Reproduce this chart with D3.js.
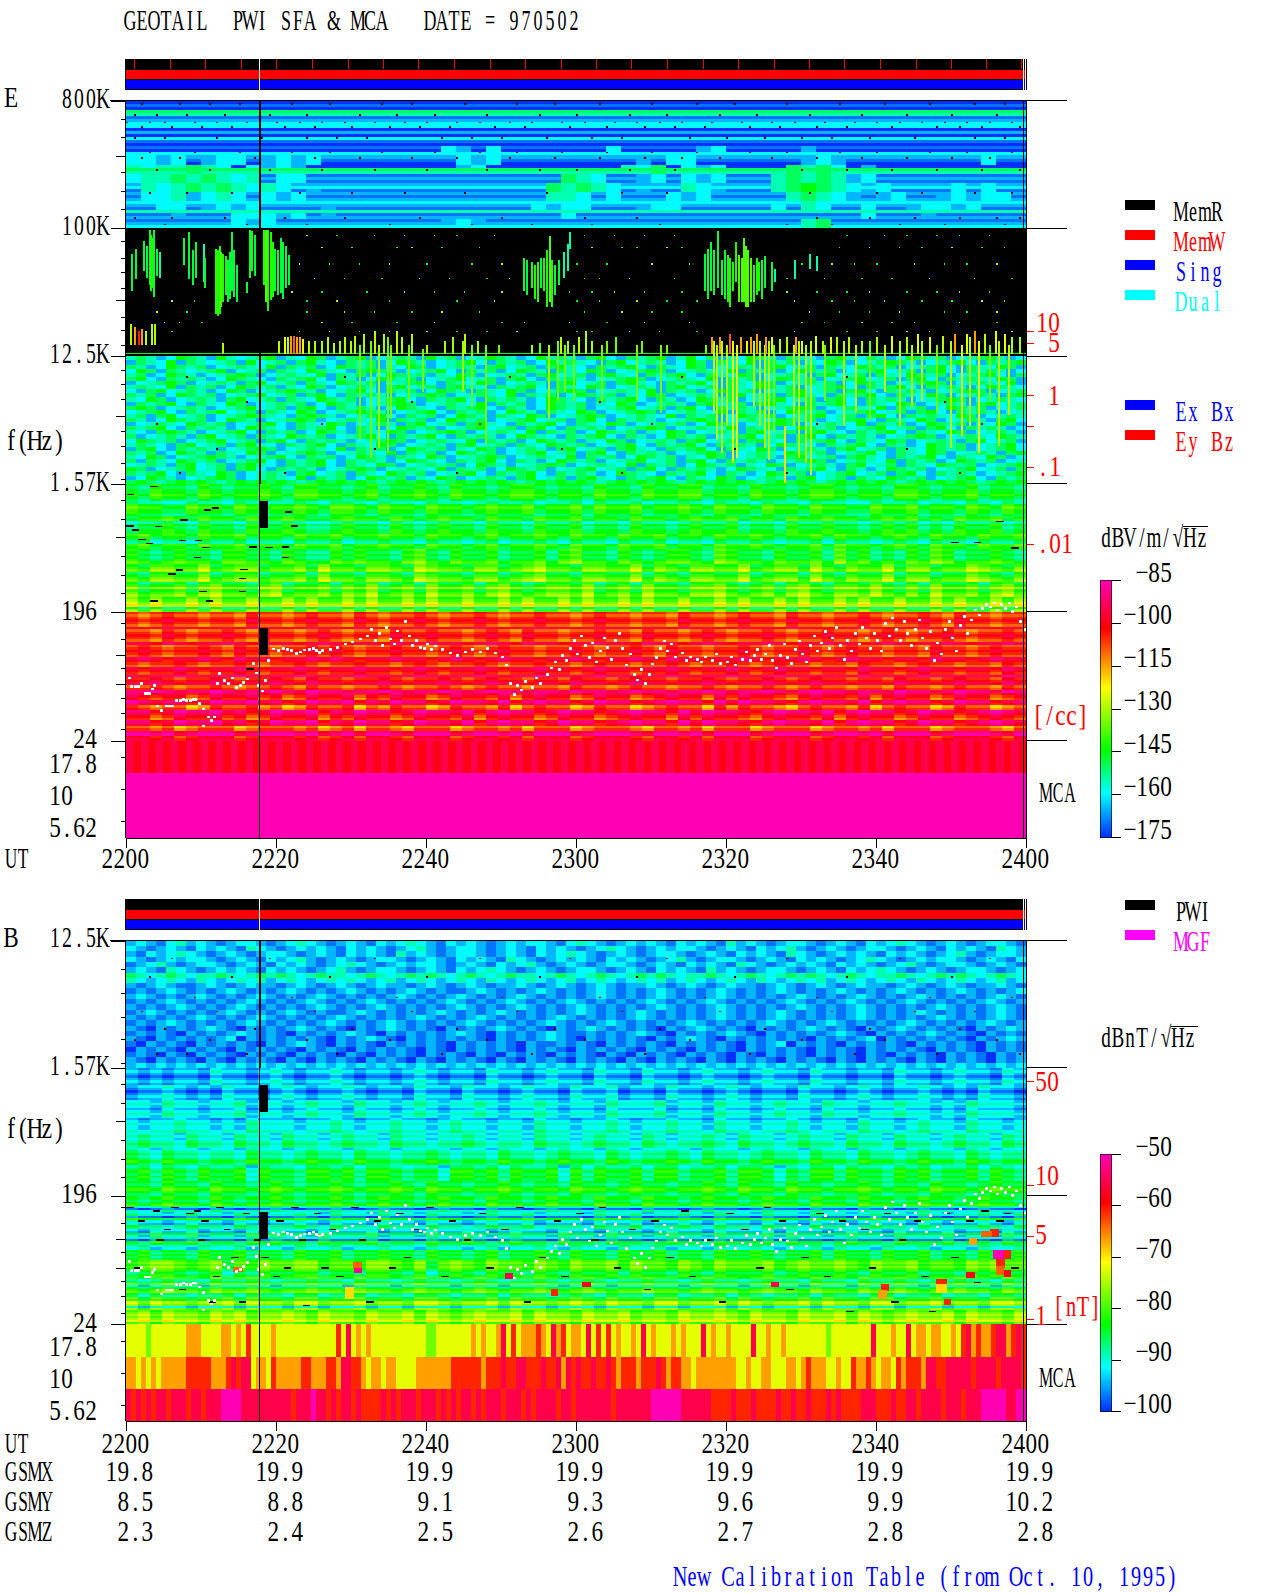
<!DOCTYPE html>
<html>
<head>
<meta charset="utf-8">
<style>
  body { margin: 0; background: #fff; }
  svg text { font-family: "Liberation Serif", serif; font-size: 29px; white-space: pre; }
</style>
</head>
<body>
<svg id="chart" width="1280" height="1593"></svg>
<script src="https://cdnjs.cloudflare.com/ajax/libs/d3/7.8.5/d3.min.js"></script>
<script>
// values are colour-code levels: 0 = blue ... 9 = magenta,
// a..i are the half levels .5 ... 8.5
const utLabels = ["2200", "2220", "2240", "2300", "2320", "2340", "2400"];
const utMinutes = [0, 20, 40, 60, 80, 100, 120];
const gsmx = ["19.8", "19.9", "19.9", "19.9", "19.9", "19.9", "19.9"];
const gsmy = ["8.5", "8.8", "9.1", "9.3", "9.6", "9.9", "10.2"];
const gsmz = ["2.3", "2.4", "2.5", "2.6", "2.7", "2.8", "2.8"];
const memwTicks = [1.1,5.9,10.5,15.3,20,24.8,29.6,34.3,39,43.8,48.5,53.2,58,62.7,67.4,72.2,76.9,81.6,86.4,91.1,95.8,100.5,105.3,110,114.7,119.4];

const majorHz = [800000, 100000, 12500, 1570, 196, 24];
const minorShortHz = [591000,441000,250000,184000,137000,81000,62000,49500,38000,23800,19300,15000,10000,7900,6200,3700,2900,2200,1700,1210,885,485,356,266,163,126,78.6,48.4,37.8,29];
const minorLongHz = [326000,31000,4700,660,97,60.5];
const bTopTicksHz = [7850,5310,3600,2520,1700];
const mcaTicks = [17.8, 10, 5.62];

const eDensityLabels = ["10", "5", "1", "", ".1", ".01"];
const eDensityHz = [18700, 15400, 6600, 4000, 2050, 584];
const bFieldLabels = ["50", "10", "5", "1"];
const bFieldHz = [1261, 231, 100, 26];

const eDbTicks = [-85, -100, -115, -130, -145, -160, -175];
const bDbTicks = [-50, -60, -70, -80, -90, -100];

// E, 100K-800K: one level per row, then patches of activity ("-" none)
const eTopStripe = "0a0c2a1bb010ba0a0b1a00c2a1a1ba1a1b1a2a1a1b";
const eTopPatch = [
"------------------------------------------------------------",
"------------------------------------------------------------",
"------------------------------------------------------------",
"------------------------------------------------------------",
"------------------------------------------------------------",
"---------------------b1-b-------b-----1b-----1--------------",
"bb1b-1bb-1b1b---------b1b---------1-bb-------1b1---------b--",
"2b22c2b-b1b1----------1b---------2bc-b1b----c2cb-1----------",
"b22c2c2b2-bb-----------------c2b--1b-b1b---2c2c21b----------",
"-2b2c2c2b2b-1---------------c2c2b-1--2b1---2c3c2b1b----b-b--",
"-bb21b2b-b1b----------------22b-b---b1b-----2c2b1-1b--1b1bb-",
"--bb-1b1b----1-------------b1bb---1bb------b-2b--b--1bb1b---",
"---1---bbb1b-1---------------b-------------------b---1------",
"-------b1b-----------1b1---------------------2c-------------"
];
// small black specks in that band: kHz of the row, then the minutes
const eTopSpecks = [
[770,[2,7,11,15,22,27,34,38,45,52,57,63,70,76,81,88,95,101,107,113,117]],
[640,[1,4,8,13,19,24,31,36,41,48,55,60,67,72,79,84,91,98,104,110,116]],
[570,[0,3,5,9,12,16,20,23,26,29,33,37,40,44,47,51,54,58,61,65,68,71,74,78,82,86,89,93,97,100,103,106,109,112,115,118]],
[530,[2,6,10,14,21,25,30,35,39,43,49,53,59,64,69,73,77,83,87,92,96,102,108,111,114,119]],
[440,[1,5,12,18,24,28,32,42,46,50,56,62,66,75,80,85,90,94,99,105,113,117]],
[350,[3,9,15,22,27,34,41,47,52,58,64,70,76,83,88,95,100,107,112,118]],
[320,[2,7,17,25,31,38,44,51,57,63,69,74,79,86,92,98,104,110,115]],
[262,[4,11,19,26,33,40,48,55,60,67,73,90,96,102,108,114,119]],
[180,[3,8,14,23,30,37,45,56,66,72,91,100,106,113,118]],
[120,[1,6,13,21,29,39,50,61,68,92,99,105,111,116,119]],
[108,[5,16,24,35,46,54,62,71,88,94,103,109,117]]
];

// E, 1.57K-12.5K, speckled noise
const eNoise = [
"2c21b3c2132b2c312b3c12c31b2c2132c1b23c21b32c21c3b1c2c3123bc12b3c21c2b1c32bc21b3c2c1b2c321b",
"1c2b31c2b2c13b2c1c32b1c2c1b3c21b2c3b1c2c1b32c2b1c3b2c21b3c1c2b31c2c12b3c1b2c3c21b2c3b1c2c3",
"c21b3c2c1b2c2b31c2c1b3c2c12b3c1b2c21c3b2c1c32b1c2c3b1c2b3c1b2c21c3b2c1c2b3c2c1b2c3b1c2b3c1",
"b3c1c2b2c31b2c1c2b3c2b1c3c21b2c3b1c2c1b3c21c2b3c1b2c3c1b2c2b31c2c1b3c2c1b2c3b2c1c3b1c2c21b",
"2c1b3c21b2c3c1b2c2b31c2c1b3c2c12b3c1b2c21c3b2c1c32b1c2c3b1c2b3c1b2c21c3b2c1c2b3c2c1b2c3b1c",
"c3b1c2c21b3c2b1c2c3b1c21b3c2c1b2c3b2c1c3b1c2c21b2c3c1b2c2b31c2c1b3c2c1b2c3b2c1c3b1c2c2b3c1",
"1b2c3c1b2c21c3b2c1c2b3c2c1b2c3b1c2b3c1b2c21c3b2c1c32b1c2c3b1c2b3c1b2c2c1b3c21b2c3c1b2c2b31",
"2c2b31c2c1b3c2c12b3c1b2c21c3b2c1c32b1c2c3b1c2b3c1b2c21c3b2c1c2b3c2c1b2c3b1c2c3b1c2c21b3c2b",
"b1c3b2c21b3c1b2c3c21b2c3b1c2c1b3c21c2b3c1b2c3c1b2c2b31c2c1b3c2c1b2c3b2c1c3b1c2c21b2c3c1b2c",
"c2c1b3c2c1b2c3b2c1c3b1c2c21b2c3c1b2c2b31c2c1b3c2c12b3c1b2c21c3b2c1c32b1c2c3b1c2b3c1b2c21c3",
"2b3c1b2c21c3b2c1c2b3c2c1b2c3b1c2c3b1c2c21b3c2b1c2c3b1c21b3c2c1b2c3b2c1c3b1c2c21b2c3c1b2c2b",
"1c2c3b1c2b3c1b2c2c1b3c21b2c3c1b2c2b31c2c1b3c2c12b3c1b2c21c3b2c1c32b1c2c3b1c2b3c1b2c21c3b2c",
"c3c1b2c21b2c3b2c1c3b1c2c21b3c2b1c2c3b1c21b3c2c1b2c3b2c1c3b1c2c21b2c3c1b2c2b31c2c1b3c2c1b2c",
"b2c3b1c2c3b2c1c2b3c1b2c3c21b2c3b1c2c1b3c21c2b3c1b2c3c1b2c2b31c2c1b3c2c1b2c3b2c1c3b1c2c21b2",
"2c1c3b2c1b2c3c2b1c3c21b2c3b1c2c1b3c21c2b3c1b2c3c1b2c2b31c2c1b3c2c1b2c3b2c1c3b1c2c2b3c1b2c2",
"c21b3c2c1b3c21b2c3c1b2c2b31c2c1b3c2c1b2c3b2c1c3b1c2c21b2c3c1b2c2b3c2c1b2c3b1c2b3c1b2c21c3b",
"1b2c2b3c2c1b2c3b1c2b3c1b2c21c3b2c1c32b1c2c3b1c2b3c1b2c2c1b3c21b2c3c1b2c2b31c2c1b3c2c12b3c1",
"c2c3b1c2c21b3c2b1c2c3b1c21b3c2c1b2c3b2c1c3b1c2c21b2c3c1b2c2b31c2c1b3c2c1b2c3b2c1c3b1c2c21b",
"2b1c3c21b2c3b1c2c1b3c21c2b3c1b2c3c1b2c2b31c2c1b3c2c12b3c1b2c21c3b2c1c32b1c2c3b1c2b3c1b2c21",
"c1b2c21c3b2c1c2b3c2c1b2c3b1c2c3b1c2c21b3c2b1c2c3b1c21b3c2c1b2c3b2c1c3b1c2c21b2c3c1b2c2b3c2",
"b3c2c1b2c3b2c1c3b1c2c21b2c3c1b2c2b31c2c1b3c2c12b3c1b2c21c3b2c1c32b1c2c3b1c2b3c1b2c21c3b2c1",
"2c2b1c3b2c1c32b1c2c3b1c2b3c1b2c21c3b2c1c2b3c2c1b2c3b1c2c3b1c2c21b3c2b1c2c3b1c21b3c2c1b2c3b",
"1c3b1c2c21b2c3c1b2c2b31c2c1b3c2c12b3c1b2c21c3b2c1c32b1c2c3b1c2b3c1b2c21c3b2c1c2b3c2c1b2c3b",
"c2c1b3c21c2b3c1b2c3c1b2c2b31c2c1b3c2c1b2c3b2c1c3b1c2c21b2c3c1b2c2b3c2c1b2c3b1c2b3c1b2c21c3",
"2b3c1b2c3c21b2c3b1c2c1b3c21c2b3c1b2c3c1b2c2b31c2c1b3c2c12b3c1b2c21c3b2c1c32b1c2c3b1c2b3c1b",
"c1c2b3c2c1b2c3b1c2c3b1c2c21b3c2b1c2c3b1c21b3c2c1b2c3b2c1c3b1c2c21b2c3c1b2c2b31c2c1b3c2c1b2",
"b2c21c3b2c1c32b1c2c3b1c2b3c1b2c2c1b3c21b2c3c1b2c2b31c2c1b3c2c12b3c1b2c21c3b2c1c2b3c2c1b2c3",
"3c1b2c3b2c1c3b1c2c21b2c3c1b2c2b31c2c1b3c2c1b2c3b2c1c3b1c2c21b3c2b1c2c3b1c21b3c2c1b2c3b2c1c",
"c2c3b1c2b3c1b2c21c3b2c1c2b3c2c1b2c3b1c2c3b1c2c21b3c2b1c2c3b1c21b3c2c1b2c3b2c1c3b1c2c21b2c3",
"1b3c21b2c3c1b2c2b31c2c1b3c2c12b3c1b2c21c3b2c1c32b1c2c3b1c2b3c1b2c21c3b2c1c2b3c2c1b2c3b1c2c",
"c3c2c3c3c2c3c3c3c2c3c3c3c2c3c3c2c3c3c3c2c3c3c3c2c3c3c3c2c3c3c3c2c3c3c2c3c3c3c2c3c3c3c2c3c3"
];

// streaks: minute, top kHz, bottom kHz, level
const eStreaks = [
[.6,66,36,2.7],[1.2,72,44,2.7],[2.2,82,50,2.7],[2.6,75,45,2.7],[3,98,40,2.7],[3.2,90,36,3.3],[3.4,85,38,3.3],[3.6,98,33,2.7],[3.9,72,46,2.7],[4.3,68,45,2],
[7.6,85,55,2.7],[8.2,95,44,2.7],[8.7,70,40,2.7],[9.1,80,45,2.7],[10.2,78,42,2],[10.4,62,38,2.7],
[11.8,72,25,3.3],[12.1,70,24,3.3],[12.3,75,25,3.3],[12.5,68,28,3.7],[12.8,66,30,3.3],[13.1,64,34,3.3],[13.4,60,30,2.7],[13.7,68,32,2.7],[14,95,36,2.7],[14.2,70,33,2.7],[14.6,55,30,2.7],
[16.3,98,45,2.7],[16.6,96,50,3.3],[17,90,46,2.7],[16,42,35,2.7],
[18.2,98,40,3.3],[18.5,98,30,3.7],[18.8,98,26,3.3],[19.1,95,31,3.3],[19.4,80,33,3.3],[19.7,72,36,2.7],[20.1,70,34,2.7],[20.5,85,35,2.7],[20.8,80,32,2.7],[21.1,75,38,2.7],[21.5,65,40,2.7],
[52.9,62,36,2.7],[53.3,60,34,2.7],[53.9,58,38,3.3],[54.4,55,32,3.3],[54.8,58,30,3.3],[55.2,62,38,2.7],[55.6,62,36,3.3],[56,70,28,3.3],[56.3,88,30,3.7],[56.6,60,28,3.3],[57,55,34,2.7],[57.6,60,40,2.7],[58.2,68,45,2],[58.8,78,50,2],[59,95,72,2],
[77,66,36,2.7],[77.4,72,32,2.7],[77.8,80,36,2.7],[78.2,70,34,2.7],[78.8,96,38,2.7],[79.3,60,34,2.7],[79.7,70,32,2.7],[80.1,65,30,3.3],[80.4,62,28,3.3],[80.7,58,36,3.3],[81.1,80,42,3.3],[81.5,65,30,3.7],[81.9,62,30,3.7],[82.2,85,30,3.7],[82.5,75,28,3.7],[82.8,70,28,3.7],[83.1,62,30,3.7],[83.5,55,30,3.3],[83.9,62,34,3.3],[84.2,58,36,3.3],[84.6,60,32,2.7],[85,64,38,2.7],[86,58,36,2.7],[86.3,52,42,2],[89,60,44,2],[91,66,52,2],[92,64,50,2],
[31,15,3.2,4],[32.5,16,2.4,4],[33.6,15,2.8,4.4],[34.8,17,2.6,4],[35.2,15,4.5,4],[37.5,15,6,4],[39.4,14,7,4],[44.8,16,7,4.4],[46,15,5.5,4],[47.8,15,3,4],[56.2,15,4.5,4.4],[57.4,16,6,4],[58.4,15,7,4],[59.5,15,6,4],[63.3,15,6,4],[68,15,6,4],[71.2,15,5,4],
[78.2,16,5,4.6],[78.6,15,3.2,4.6],[79.3,16,2.6,4.6],[80,15,4,4.6],[80.8,16,2.2,5],[81.3,15,2.4,5],[83.6,16,5.5,4.6],[84.4,16,4,4.6],[85,15,2.8,4.6],[85.6,16,2.3,4.6],[86.2,15,3.6,4],[87.7,4,1.6,5.5],[88.9,15,4,4.6],[89.6,16,2.4,4.6],[90.5,15,2.2,4.6],[91.2,16,1.8,4.6],[93,15,6,4],[95.5,16,4,4.6],[97.2,15,5,4.6],[99,16,4.4,4],[101,15,7,4.6],[103,16,4,4.6],[104.6,15,5.5,4.6],[106,16,6,4.6],[108,15,5,4],[109.8,16,2.8,4.6],[111.3,15,3.4,5],[112.4,17,4,4.6],[113.6,16,2.6,5],[115,15,6,4],[116.2,16,2.9,4.6],[117.6,15,4.8,4.6],
[.5,21,15,4.6],[1,20,15,6],[1.5,19,15,7],[2,19.5,15,6],[2.5,19,15,4.6],[3.3,21,15,4.6],[3.7,21,15,4.6],
[12.8,15.5,13,4.5],[20.2,16,13,4.6],[21,17,13,5],[21.4,17,13,4.6],[21.8,17.5,13,6],[22.2,17.5,13,6.5],[22.6,17,13,6],[23,17,13,6],[23.4,16.5,13,5],[24.2,16,13,4.6],[25,16,13,4.5],
[26,16,13,4.5],[26.8,17,13,4.6],[27.6,15.5,13,4.6],[28.4,16,13,4.5],[29,17,13,4.6],[29.8,16,13,4.5],[30.4,17.5,13,4.6],[31.6,18,13,4.5],[33,19,13,4.6],[34.2,18,13,4.5],[36,19,13,4.6],[36.6,17,13,4.6],[38,18,13,4.5],[40,15,13,4.5],[42.4,16,13,4.5],[43.4,17,13,4.5],[45,18,13,4.6],[46.8,16,13,4.5],[49.5,15,13,4],[54,15,13,4.5],[55,15.5,13,4],[57.8,17,13,4.6],[58.8,16,13,4.5],[60.2,17,13,4.6],[61.2,19,13,4.6],[62,16,13,4.5],[64,16,13,4],[65.2,17,13,4],[68.6,16,13,4],[72,15,13,4],[77.2,15,13,4],
[78,17,13,6],[79,17,13,6],[80.4,18,13,6.5],[81.8,17,13,6],[82.6,16,13,5],[83.2,17,13,6],[84,18,13,6],[85.2,17,13,6],[86,17,13,5],[87,16.5,13,4.6],[88,17,13,4.6],[89.2,17,13,6],[90,16,13,5],[91.8,17.5,13,5],[92.8,16,13,4.6],[93.8,17,13,5],[94.6,17,13,4.6],[96.2,17,13,4.6],[98,16,13,4.6],[100,17,13,4.6],[102,17.5,13,5],[104,17,13,4.6],[105.4,18,13,5],[107,17,13,5],[108.8,17.5,13,4.6],[110.4,18,13,6],[112,18,13,5],[113,19,13,6],[114.4,18,13,4.6],[115.8,19,13,5],[117,18,13,5],[118,17,13,4.6],[119,17,13,4.5]
];

// sparse dots in the black band: kHz of the row, then the minutes where a dot shows
const eDotRows = [
[90,[24,28,33,37,41,44,49,61,65,69,73,96,101,104,108,111,115]],
[74,[26,30,36,38,42,47,62,66,68,72,74,95,99,103,106,110,114,117]],
[57,[23,27,31,35,40,46,50,60,64,70,75,90,94,97,100,105,109,112,116]],
[45,[25,29,34,39,43,48,51,61,63,67,73,88,93,98,102,107,113,118]],
[36,[22,26,32,37,41,45,50,59,62,65,69,74,88,92,96,99,104,108,111,115]],
[31,[6,9,24,28,35,44,49,60,63,68,72,76,89,94,97,101,106,110,114,117]],
[26,[4,8,24,29,33,38,42,47,61,66,70,74,91,95,99,103,109,112,116]],
[22,[5,7,10,26,30,36,41,50,53,59,64,69,75,90,93,98,102,105,111,116]],
[19,[2,6,23,27,31,35,40,44,48,52,60,62,67,71,76,89,96,100,104,107,113,118]]
];

// stripes are one level per row, offsets are coarse time-frequency patches (2 = none, steps of half a level)
const eMidStripe = "3c33d3c23d33c3d23c33d3c2d33c3c3d3d4c3d4c3e3d4d4e5c4";
const eMidOffset = [
"213221321223213322123122321322123321221322132233122132212332122133212231221",
"322113221321223213321322132212322312231322312232132213221322113223122132132",
"122321322132232112322132123221322132231221322123223122132232212323121322312",
"231221322312213223122322132212312232132213223122132232122313221232132213223",
"321232213322132113232213421322312231342213212332143221322314231213243122321",
"213322412331223142213321432213312342213322413213322412331421322413312243213",
"312231342213412231324123142231342123324123142213342123134213324213142231342",
"313113131131131311313113131131131311313113131131131311313113131131131311313"
];
const eLowStripe = "7g7h7g8g7h7g8g7h7g8h7g8h7i7h8g7i8h7i8g7i8h7i8g7i9h8";
const eLowOffset = [
"212322122132212322132122321223212232212322122132212322132212232122321322122",
"221321223213221232122132232212321322122322132212321223212232212321223212232",
"232122321322122323212232212321232212232122321322122321223212322122132212322",
"212232122321223212232212321223212232212322122321223212322122132212322122132",
"223212232122321322122321223212322122132212322122321223212322122132212322132",
"321220132231201322302132201322130232201322012322031322102322130232201322012",
"220132231201322302132201322130232201322012322031322102322130232201322012321",
"221201222012221201202210222012212022201222102212022201222012212022201222102"
];
const eMca = [
"8h8h8h8h8h8h8h8h8h8h8h8h8h8h8h8h8h8h8h8h8h8h8h8h8h8h8h8h8h8h8h8h8h8h8h8h8h8h8h8h8h8h8h8h8h8h8h8h8h8h8h8h8h8h8h8h8h8h8h8h",
"9",
"9"
];
const eDashes = [[.05,1330],[3.2,1520],[10.3,1035],[11.4,1075],[7.2,885],[0,800],[.7,750],[1.6,640],[2.6,600],[3.8,795],[7,630],[9.1,630],[10.1,565],[9,480],[5.6,365],[6.6,390],[15.2,395],[15,340],[15,275],[9.7,275],[10.6,235],[3.2,235],[16.4,570],[18.5,565],[20.7,570],[21.1,1005],[21.9,800],[20.7,480],[16,78],[110,610],[113,610],[116,860],[118,560]];

// B, 1.57K-12.5K noise
const bNoise = [
"1b1ab21b1a1bb1a1b2b1a1b1ab1b2b1ab1b1a1b1bb1ab2b1a1b1b1ab1b1a21b1a1bb1a1b1ab1b2b1a1b1a1bb1a",
"b1a1b1ab1b1a2b1a1b1b1ab1b1a1b21a1bb1a1b1ab1b1a1b2b1a1b1bb1a1b1ab1b21a1b1a1bb1a1b1ab1b1a2b1",
"1ab1b2b1a1b1a1bb1a1b1ab1b1a21b1a1bb1a1b1ab1b2b1a1b1a1bb1a1b1ab1b1a2b1a1b1b1ab1b1a1b21a1bb1",
"b1a1b1bb1a1b1ab1b21a1b1a1bb1a1b1ab1b1a2b1a1b1b1ab1b1a1b21a1bb1a1b1ab1b1a1b2b1a1b1bb1a1b1ab",
"a1b21a1bb1a1b1ab1b1a1b2b1a1b1bb1a1b1ab1b21a1b1a1bb1a1b1ab1b1a2b1a1b1b1ab1b1a1b21a1bb1a1b1a",
"1b1a2b1a1b1b1ab1b1a1b21a1bb1a1b1ab1b2b1a1b1a1bb1a1b1ab1b1a21b1a1bb1a1b1ab1b2b1a1b1a1bb1a1b",
"c2b2c2b22c2b2c2c2b2c22b2c2b2c2c2b2c2b2c22b2c2b2c2b2c2c2b22c2b2c2b2c2c2b2c2b22c2b2c2c2b2c2b",
"2b1b2b12b1b2b21b2b1b2b2b1b21b2b1b2b12b1b2b1b21b2b1b2b21b2b1b2b12b1b2b21b2b1b2b12b1b2b1b21b",
"1a1b1aa1b1a1b11a1b1a1b1a1b11a1b1a1b1a11b1a1b1a1b1a11b1a1b1a1b11a1b1a1b1a1b11a1b1a1b1a11b1a",
"a1a1b1a1a1b1a1a1b1a1a1b1a1a1b1a1aa1b1a1a1b1a1a1b1a1a1b1a1a1b1a1a1b1a1a1b1a1a1b1a1a1b1a1a1b",
"1b1a1a1b1a1a1b1a1a1b1a1a1a1b1a1a1b1a1a1b1a1a1a1b1a1a1b1a1a1b1a1a1a1b1a1a1b1a1a1b1a1a1a1b1a",
"a1a1b1a1a1a1b1a1a1b1a1a1b1a1a1a1b1a1a1b1a1a1b1a1a1a1b1a1a1b1a1a1a1b1a1a1b1a1a1b1a1a1a1b1a1",
"1a1a1b1a1a1b1a1a1a1b1a1a1b1a1a1a1b1a1a1b1a1a1b1a1a1a1b1a1a1b1a1a1a1b1a1a1b1a1a1a1b1a1a1b1a",
"a1b1a1a1a1b1a1a1b1a1aa1b1a1a1a1b1a1a1b1a1a1a1b1a1a1b1a1a1a1b1a1a1b1a1a1a1b1a1a1b1a1a1a1b1a",
"1a1a1a1b1a1a1b1a1a1a1b1a1a1a1b1a1a1b1a1a1a1b1a1a1a1b1a1a1a1b1a1a1b1a1a1a1b1a1a1a1b1a1a1b1a",
"a1a1b1a1a1a1b1a1a1a1b1a1a1b1a1a1a1b1a1a1a1b1a1a1b1a1a1a1b1a1a1a1b1a1a1b1a1a1a1b1a1a1a1b1a1",
"1a01a1a1b1a01a1a1b1a1a01a1b1a1a01a1a1b1a1a01a1b1a1a1a01a1b1a1a01a1a1b1a1a01a1b1a1a1a01a1b1",
"a1a1a01a1a1b1a1a01a1a1b1a01a1a1a1b1a01a1a1b1aa1a1a1b1a01a1a1b1a01a1a1a1b1a01a1a1b1a1a01a1a",
"1a01a1a1a1b01a1a1a1a01a1b1a01a1a1a1a01a1a1b1a01a1a1a01a1b1a01a1a1a1a01a1a1b01a1a1a1a01a1b1",
"a01a1a01a1a1a01a1b1a01a1a01a1a1a01a1a1a01aa1a1a01a1a1a01a1a1a01a1b01a1a01a1a1a01a1a1a01a1a",
"01a1a01a1a01a1a1a01a1a01a1a1a01a01a1a1a01a1a01a1a1a01a1a01a1a01a1a1a01a1a01a1a1a01a1a01a1a",
"a1a01a01a1a01a1a01a1a01a01a1a01a1a01a01a1a01a1a01a01a1a01a1a01a01a1a01a1a01a01a1a01a1a01a1",
"1a01a1a01a01a1a01a01a1a01a1a01a01a1a01a01a1a01a1a01a01a1a01a01a1a01a1a01a01a1a01a01a1a01a1",
"1b1b1b1b1b1b1b1b1b1b1b1b1b1b1b1b1b1b1b1b1b1b1b1b1b1b1b1b1b1b1b1b1b1b1b1b1b1b1b1b1b1b1b1b1b"
];
// black specks of the noise bands: kHz of the row, then the minutes
const bNoiseSpecks = [
[9.5,[6,19,33,47,59,72,88,103,115]],
[7,[3,14,27,40,55,68,81,96,110]],
[5,[9,22,36,50,63,77,92,107,118]],
[4,[2,12,25,38,52,66,79,94,105,113]],
[3,[5,17,30,44,57,71,85,99,111]],
[2.5,[1,11,24,35,48,61,75,90,101,116]],
[2,[4,8,16,28,42,54,69,83,97,108,119]]
];
const eNoiseSpecks = [
[9,[8,29,51,74,96]],[6,[16,38,63,85,109]],[4.2,[4,26,47,70,92,114]],[2.8,[12,33,58,81,104]],[1.9,[7,21,44,66,88,111]]
];
const bMidStripe = "1b1a1b1b1a1b1b2b1b2b1b2bb2b2b2c2b2c2c3c2c3c3c3c3d3c";
const bMidOffset = [
"212122132212321223212212321221322123221322132212322123221322122132212322132",
"122321213221232122321221322132212322132231221322123212213221232122321213221",
"221322122312212322132212321223212232122132223122132212322132212232212132221",
"212232212132221223212232212322122132212232122322132212232122132212322132212",
"232213221322132212322132212232122132212322132122321322123221322132212322132",
"321322122132212322132212232122132212322132122321322123221322132212322132122",
"231321322303221332313321220332313223031322313312231332021331322132312231321",
"221322132212321223212232132212232122132212322122321322132212232122132212322"
];
const bLowStripe = "33c3d2a2b2a3b1c2b13b2a3c2b3c3c3d4d4d3c3d2c4b3d4c2d3e4b4d4e4e5d";
const bLowOffset = [
"212322132122321223212322123221322123221322132212322123221322132212322123221",
"322123221321223213221322132212322312221322312232132213221322123221321223213",
"213223122132322132223122132232123221322132212322132223132212322132223122132",
"231221322312213223122322132212312232132213223122132232122313221322312213223",
"123321230213223312213321302321322132132231322132132223123223213223122132322",
"212322132232122322132212322123212232123212232212322123221322132232122322132",
"313221223132213312231221332122313221232132213312231321223132213312231221332",
"231322132312232132213223132123223132213223122132232132213223132123223132213"
];
const bMca = [
"555545555555666555566565755556555555555555758565655555555555445555555656556857566676586756658575756556585655565655585655655558556556555555554555555558555655856656655657867667886787",
"665656566666777776667878856657666667766677688776566566555566666667777776777877887778778687877877876777677787677665666666665565566555665676665565576676566576777688778888878888788887",
"878787887888788788899998888888888788898878788787777878788878887878788787888788878788887887888888878888888999999888888777787778777787787787778787777888777877887888878887888999998899"
];
// small hot patches in the B low band: minute from, minute to, top Hz, bottom Hz, level
const bPatches = [[30.4,31.4,60,55,8.5],[30.2,31.4,66,60,6.5],[14.2,15.6,61,56,6.5],[29.2,30.3,44,36,5.5],[50.5,51.5,55,50,8],[56.6,57.6,43,38,7],[60.8,62,48,44,7.5],[86,87,48,44,8],[100.6,101.7,46,41,7],[100.2,101.4,42,36,6],[108,109.4,50,46,7],[108,109.4,46,40,5.5],[115.2,116.4,113,100,7],[115.6,117,80,70,9],[117,118,80,70,7],[116,117.2,70,60,7],[116,117,62,54,6.5],[117,118,58,52,7.5],[112,113.2,56,51,7.5],[112.4,113.4,98,88,6],[114,115.4,110,100,6.5],[109,110,36,33,7]];
const bDashes = [[0,163],[1,61],[1.5,131],[3.5,154],[4,96],[5,114],[6,163],[7,43],[8,148],[9,154],[9.5,96],[10,131],[11,35],[11.5,53],[12,163],[13,114],[14,72],[15,35],[15.5,148],[17,96],[18,72],[19.5,53],[20,131],[21,61],[22,163],[23,96],[23.5,33],[25,148],[26,61],[27,114],[28,53],[30,163],[31,96],[32,35],[33,131],[35,61],[36,148],[37,72],[38,114],[40,163],[42,53],[43,131],[45,96],[47,148],[48,61],[50,114],[52,163],[53,35],[55,72],[57,131],[58,53],[60,148],[62,96],[63,163],[65,61],[67,114],[69,43],[70,131],[72,72],[74,154],[75,53],[77,96],[79,35],[80,148],[82,114],[84,61],[85,163],[87,131],[88,43],[90,72],[92,148],[93,53],[95,131],[96,30],[98,114],[99,61],[101,148],[102,35],[103,96],[105,131],[106,53],[107,30],[109,148],[110,72],[112,131],[113,48],[114,154],[116,131],[117,148],[118,61]];

// density / plasma line, minute and Hz
const tracePoints = [[.2,68],[.5,59],[1,59],[1.4,59],[1.8,62],[2.3,53],[2.6,53],[2.9,53],[3.3,57],[3.6,60],[4,43],[4.5,40],[5.1,43],[5.5,43],[6,43],[6.5,47],[7,47],[7.4,48],[7.8,47],[8.3,47],[8.7,48],[9,48],[9.6,45],[10.1,41],[10.1,31],[10.7,36],[11.2,34],[11.6,36],[12,62],[12.2,73],[12.9,65],[13.4,62],[13.9,68],[14.5,58],[15,60],[15.4,63],[16,67],[16.7,86],[17.2,74],[17.4,60],[18,55],[18.3,65],[18.7,90],[19.4,109],[20.1,106],[20.8,110],[21.3,108],[21.8,106],[22.5,101],[23,104],[23.6,107],[24.2,108],[24.7,110],[25.2,106],[25.6,103],
[26,106],[27,108],[28,112],[29,118],[30,122],[31,128],[32,135],[32.5,150],[33,125],[33.5,140],[34,115],[34.5,155],[35,128],[35.5,118],[36,146],[36.5,125],[37,170],[37.5,135],[38,115],[38.5,125],[39,112],[39.5,110],[40,118],[40.5,108],[41,114],[42,108],[43,102],[44,98],[45,104],[46,108],[47,104],[48,110],[49,102],[50,96],[50.5,84],[51,62],[51.5,52],[52,60],[52.5,56],[53,64],[54,58],[54.5,68],[55,62],[56,72],[56.5,80],[57,88],[57.5,78],[58,98],[58.5,90],[59,110],[59.5,125],[60,100],[60.5,135],[61,115],[61.5,95],[62,120],[62.5,88],[63,105],[63.5,130],[64,112],[64.5,92],[65,125],[65.5,140],[66,110],[66.5,84],[67,100],[67.5,72],[68,66],[68.5,78],[69,62],[69.5,72],[70,85],[70.5,95],[71,110],[71.5,124],[72,105],[72.5,118],[73,96],[74,102],[74.5,90],[75,96],[76,92],[76.5,88],[77,96],[78,90],[78.5,100],[79,86],[80,88],[80.5,96],[81,84],[82,92],[82.5,104],[83,90],[83.5,98],[84,108],[84.5,92],[85,100],[85.5,115],[86,90],[86.5,80],[87,98],[87.5,118],[88,95],[88.5,86],[89,108],[89.5,124],[90,100],[90.5,88],[91,115],[91.5,135],[92,105],[92.5,120],[93,145],[93.5,110],[94,130],[94.5,155],[95,115],[95.5,92],[96,125],[96.5,105],[97,140],[97.5,118],[98,155],[98.5,130],[99,110],[99.5,140],[100,125],[100.5,105],[101,165],[101.5,135],[102,180],[102.5,150],[103,125],[103.5,170],[104,140],[104.5,115],[105,150],[105.5,175],[106,130],[106.5,110],[107,145],[107.5,90],[108,120],[108.5,100],[109,150],[109.5,170],[110,130],[110.5,105],[111,160],[111.5,185],[112,140],[112.5,175],[113,205],[113.5,190],[114,210],[114.5,225],[115,215],[115.5,230],[116,205],[116.5,225],[117,210],[117.5,230],[118,200],[118.5,215],[119,170],[119.5,150]];

const colorStops = [0, .17, .338, .58, .81, 1];
const colorRange = ["#0030ff", "#00ffff", "#00ff00", "#ffff00", "#ff0000", "#ff00b4"];

const svg = d3.select("#chart");
const x = d3.scaleLinear().domain([0, 120]).range([126.3, 1026.3]);
const X0 = 125.5, X1 = 1026.5;

function text(str, px, py, color = "#000", anchor = "start", sx = .8, pitch = 12) {
  const left = anchor == "end" ? px - str.length * pitch : anchor == "middle" ? px - str.length * pitch / 2 : px;
  svg.append("text")
    .attr("transform", `translate(${left},${py}) scale(${sx},1)`)
    .attr("x", Array.from(str, (c, i) => (i + .5) * pitch / sx).join(" "))
    .attr("text-anchor", "middle")
    .attr("fill", color)
    .text(str);
}

function parseLevel(c) {
  if (c >= "a" && c <= "i") return c.charCodeAt(0) - 97 + .5;
  return +c;
}

// grid of level rows between two y pixels
function drawRows(g, rows, y0, y1, color) {
  const rowBand = d3.scaleBand().domain(d3.range(rows.length)).range([y0, y1]);
  rows.forEach((row, r) => {
    const colBand = d3.scaleBand().domain(d3.range(row.length)).range([X0, X1]);
    g.append("g").selectAll("rect").data(row).join("rect")
      .attr("x", (d, c) => colBand(c))
      .attr("y", rowBand(r))
      .attr("width", colBand.bandwidth() + .5)
      .attr("height", rowBand.bandwidth() + .5)
      .attr("fill", d => color(d));
  });
}

function strRows(list) { return list.map(s => Array.from(s, parseLevel)); }

function stripeRows(stripe, offset) {
  const cols = offset[0].length;
  return Array.from(stripe, (s, r) => {
    const off = offset[Math.floor(r * offset.length / stripe.length)];
    return d3.range(cols).map(c => Math.max(0, Math.min(9, parseLevel(s) + ((off[c] === undefined ? 2 : +off[c]) - 2) * .5)));
  });
}

function dashes(g, list, y) {
  g.append("g").selectAll("rect").data(list).join("rect")
    .attr("x", d => x(d[0]))
    .attr("y", d => y(d[1]))
    .attr("width", x(1) - x(0))
    .attr("height", 1.5)
    .attr("fill", "#000");
}

function specks(g, list, y) {
  list.forEach(([khz, mins]) => {
    g.append("g").selectAll("rect").data(mins).join("rect")
      .attr("x", d => x(d)).attr("y", y(khz * 1000)).attr("width", 2).attr("height", 1.5).attr("fill", "#000");
  });
}

function trace(g, y) {
  g.append("g").selectAll("rect").data(tracePoints).join("rect")
    .attr("x", d => x(d[0]))
    .attr("y", d => y(d[1]))
    .attr("width", 3)
    .attr("height", 2.5)
    .attr("fill", "#fff");
}

function topBars(y0, withTicks) {
  const g = svg.append("g").attr("shape-rendering", "crispEdges");
  const stack = d3.scaleBand().domain(["#000", "#f00", "#00f"]).range([y0, y0 + 30.7]);
  g.selectAll(".bar").data(stack.domain()).join("rect").attr("class", "bar")
    .attr("x", X0 - .5).attr("width", X1 - X0 + .5)
    .attr("y", d => stack(d)).attr("height", stack.bandwidth())
    .attr("fill", d => d).attr("stroke", "#000").attr("stroke-width", 1);
  if (withTicks) {
    g.selectAll(".memw").data(memwTicks).join("line").attr("class", "memw")
      .attr("x1", d => x(d)).attr("x2", d => x(d))
      .attr("y1", y0).attr("y2", y0 + 10).attr("stroke", "#f00");
  }
  // white gaps of missing telemetry
  [17.8, 119.6, 119.85].forEach(m => {
    g.append("line").attr("x1", x(m)).attr("x2", x(m))
      .attr("y1", y0).attr("y2", y0 + 30.7)
      .attr("stroke", "#fff");
  });
}

function axes(y, mca, yBottom, yTop, majors, minors, longs) {
  const g = svg.append("g").attr("shape-rendering", "crispEdges").attr("fill", "none");
  const add = (scale, values, size) => g.append("g").attr("transform", `translate(${X0},0)`)
    .call(d3.axisLeft(scale).tickValues(values).tickSize(size).tickSizeOuter(0).tickFormat(""))
    .call(s => s.select(".domain").remove());
  add(y, majors, 15);
  add(y, minors, 5);
  add(y, longs, 10);
  add(mca, mcaTicks, 5);
  // left edge and bottom time axis
  g.append("line").attr("x1", X0).attr("x2", X0).attr("y1", yTop).attr("y2", yBottom).attr("stroke", "#000");
  g.append("g").attr("transform", `translate(0,${yBottom})`)
    .call(d3.axisBottom(x).tickValues(utMinutes).tickSize(10).tickSizeOuter(0).tickFormat(""));
  // long rules to the right of the plot
  g.selectAll(".rule").data(majors).join("line").attr("class", "rule")
    .attr("x1", X1).attr("x2", 1067).attr("y1", d => y(d)).attr("y2", d => y(d)).attr("stroke", "#000");
  // edges and the gap at 2218
  g.append("line").attr("x1", 1023.7).attr("x2", 1023.7).attr("y1", yTop).attr("y2", yBottom).attr("stroke", "#000");
  g.append("line").attr("x1", X1).attr("x2", X1).attr("y1", yTop).attr("y2", yBottom).attr("stroke", "#000");
  g.append("line").attr("x1", x(17.8)).attr("x2", x(17.8)).attr("y1", yTop).attr("y2", yBottom).attr("stroke", "#000");
}

function colorBar(dbMin, dbMax, y0, y1, ticks, color) {
  const g = svg.append("g").attr("shape-rendering", "crispEdges");
  const y = d3.scaleLinear().domain([dbMin, dbMax]).range([y1, y0]);
  const steps = d3.range(Math.ceil(y1 - y0));
  g.selectAll("rect").data(steps).join("rect")
    .attr("x", 1100.3).attr("width", 11.4)
    .attr("y", d => y0 + d).attr("height", 1.5)
    .attr("fill", d => color(y.invert(y0 + d + .5)));
  g.append("rect").attr("x", 1100.3).attr("y", y0).attr("width", 11.4).attr("height", y1 - y0)
    .attr("fill", "none").attr("stroke", "#000").attr("stroke-width", .6);
  g.append("g").attr("transform", "translate(1111.7,0)")
    .call(d3.axisRight(y).tickValues(ticks).tickSize(9).tickSizeOuter(0).tickFormat(""))
    .call(s => s.select(".domain").remove());
  ticks.forEach(t => text(String(t).replace("-", "\u2212"), 1172, y(t) + 1.5, "#000", "end"));
}

function makeColor(dbMin, dbMax) {
  const toDb = d3.scaleLinear().domain([0, 9]).range([dbMin, dbMax]);
  const byDb = d3.scaleLinear().domain(colorStops.map(t => dbMin + t * (dbMax - dbMin))).range(colorRange).clamp(true);
  return { level: l => byDb(toDb(l)), db: byDb };
}

function streak(g, list, y, color) {
  g.append("g").selectAll("rect").data(list).join("rect")
    .attr("x", d => x(d[0]))
    .attr("y", d => y(d[1] * 1000))
    .attr("width", 2)
    .attr("height", d => y(d[2] * 1000) - y(d[1] * 1000))
    .attr("fill", d => color(d[3]));
}

// ---------- E panel ----------
const yE = d3.scaleLog().domain([800000, 24]).range([100.7, 740.7]);
const mcaE = d3.scaleLog().domain([24, 4.2]).range([740.7, 837.5]);
const colE = makeColor(-175, -85);
const gE = svg.append("g").attr("shape-rendering", "crispEdges");

const eTopRows = Array.from(eTopStripe, (s, r) => {
  const patch = eTopPatch[Math.floor(r / 3)];
  return Array.from(patch, ch => ch == "-" ? parseLevel(s) : Math.max(parseLevel(s), parseLevel(ch)));
});
drawRows(gE, eTopRows, yE(800000), yE(100000), colE.level);
specks(gE, eTopSpecks, yE);
gE.append("rect").attr("x", X0).attr("width", X1 - X0).attr("y", yE(100000)).attr("height", yE(12500) - yE(100000)).attr("fill", "#000");
eDotRows.forEach(([khz, mins]) => {
  gE.append("g").selectAll("rect").data(mins).join("rect")
    .attr("x", d => x(d)).attr("y", yE(khz * 1000)).attr("width", 1.5).attr("height", 1.5)
    .attr("fill", (d, i) => colE.level(i % 3 == 0 ? 4.5 : 3));
});
drawRows(gE, strRows(eNoise), yE(12500), yE(1570), colE.level);
specks(gE, eNoiseSpecks, yE);
gE.append("rect").attr("x", X0).attr("width", X1 - X0).attr("y", yE(13200)).attr("height", 1.5).attr("fill", colE.level(3));
streak(gE, eStreaks, yE, colE.level);
drawRows(gE, stripeRows(eMidStripe, eMidOffset), yE(1570), yE(196), colE.level);
drawRows(gE, stripeRows(eLowStripe, eLowOffset), yE(196), yE(24), colE.level);
drawRows(gE, strRows(eMca), yE(24), mcaE(4.2), colE.level);
dashes(gE, eDashes, yE);
// black data-gap blocks
const gapBlocks = [[1180, 760], [150, 97]];
gE.selectAll(".gap").data(gapBlocks).join("rect").attr("class", "gap")
  .attr("x", x(17.75)).attr("width", 8.5)
  .attr("y", d => yE(d[0])).attr("height", d => yE(d[1]) - yE(d[0])).attr("fill", "#000");
gE.append("rect").attr("x", x(17.75)).attr("width", 2).attr("y", yE(800000)).attr("height", yE(1570) - yE(800000)).attr("fill", "#000");
trace(gE, yE);
topBars(59, true);
axes(yE, mcaE, 837.5, 100.7, majorHz, minorShortHz, minorLongHz);
svg.append("line").attr("x1", 110).attr("x2", 1067).attr("y1", 100.7).attr("y2", 100.7).attr("stroke", "#000").attr("shape-rendering", "crispEdges");

// ---------- B panel ----------
const yB = d3.scaleLog().domain([12500, 24]).range([940.7, 1324.3]);
const mcaB = d3.scaleLog().domain([24, 4.2]).range([1324.3, 1421]);
const colB = makeColor(-100, -50);
const gB = svg.append("g").attr("shape-rendering", "crispEdges");
drawRows(gB, strRows(bNoise), yB(12500), yB(1570), colB.level);
specks(gB, bNoiseSpecks, yB);
drawRows(gB, stripeRows(bMidStripe, bMidOffset), yB(1570), yB(196), colB.level);
drawRows(gB, stripeRows(bLowStripe, bLowOffset), yB(196), yB(24), colB.level);
gB.selectAll(".patch").data(bPatches).join("rect").attr("class", "patch")
  .attr("x", d => x(d[0])).attr("width", d => x(d[1]) - x(d[0]))
  .attr("y", d => yB(d[2])).attr("height", d => yB(d[3]) - yB(d[2]))
  .attr("fill", d => colB.level(d[4]));
drawRows(gB, strRows(bMca), yB(24), mcaB(4.2), colB.level);
dashes(gB, bDashes, yB);
gB.selectAll(".gap").data(gapBlocks).join("rect").attr("class", "gap")
  .attr("x", x(17.75)).attr("width", 8.5)
  .attr("y", d => yB(d[0])).attr("height", d => yB(d[1]) - yB(d[0])).attr("fill", "#000");
gB.append("rect").attr("x", x(17.75)).attr("width", 2).attr("y", yB(12500)).attr("height", yB(1570) - yB(12500)).attr("fill", "#000");
trace(gB, yB);
topBars(899, false);
axes(yB, mcaB, 1421, 940.7, [12500, 1570, 196, 24], bTopTicksHz.concat(minorShortHz.filter(f => f < 1570)), minorLongHz.filter(f => f < 1570));
svg.append("line").attr("x1", 110).attr("x2", 1067).attr("y1", 940.7).attr("y2", 940.7).attr("stroke", "#000").attr("shape-rendering", "crispEdges");

// ---------- texts ----------
text("GEOTAIL  PWI SFA & MCA   DATE = 970502", 124, 30, "#000", "start", .62);

const freqLabel = (str, py, end) => text(str, end, py, "#000", "end", /K/.test(str) ? .68 : .8);
text("E", 5, 107, "#000");
freqLabel("800K", yE(800000) + 7, 109);
freqLabel("100K", yE(100000) + 7, 109);
freqLabel("12.5K", yE(12500) + 7, 109);
freqLabel("1.57K", yE(1570) + 7, 109);
freqLabel("196", yE(196) + 8, 97);
freqLabel("24", yE(24) + 7, 97);
freqLabel("17.8", mcaE(17.8) + 15.5, 97);
freqLabel("10", mcaE(10) + 15.5, 73);
freqLabel("5.62", mcaE(5.62) + 15.5, 97);
text("f(Hz)", 5, 450);
text("UT", 5, 868, "#000", "start", .6);

text("B", 5, 947);
freqLabel("12.5K", yB(12500) + 6.5, 109);
freqLabel("1.57K", yB(1570) + 7, 109);
freqLabel("196", yB(196) + 7.5, 97);
freqLabel("24", yB(24) + 7.5, 97);
freqLabel("17.8", mcaB(17.8) + 15, 97);
freqLabel("10", mcaB(10) + 15, 73);
freqLabel("5.62", mcaB(5.62) + 15, 97);
text("f(Hz)", 5, 1138);

utLabels.forEach((t, i) => {
  text(t, x(utMinutes[i]) - 1, 868, "#000", "middle");
  text(t, x(utMinutes[i]) - 1, 1453, "#000", "middle");
  text(gsmx[i], x(utMinutes[i]) + 27, 1481, "#000", "end");
  text(gsmy[i], x(utMinutes[i]) + 27, 1511, "#000", "end");
  text(gsmz[i], x(utMinutes[i]) + 27, 1541, "#000", "end");
});
text("UT", 5, 1453, "#000", "start", .6);
text("GSMX", 5, 1481, "#000", "start", .6);
text("GSMY", 5, 1511, "#000", "start", .6);
text("GSMZ", 5, 1541, "#000", "start", .6);
text("New Calibration Table (from Oct. 10, 1995)", 674, 1586, "#00f", "start", .7);

// red scales
const redTicks = svg.append("g").attr("shape-rendering", "crispEdges");
eDensityHz.forEach((hz, i) => {
  redTicks.append("line").attr("x1", X1).attr("x2", 1034).attr("y1", yE(hz)).attr("y2", yE(hz)).attr("stroke", "#f00");
  const lab = eDensityLabels[i];
  if (lab) text(lab, lab == ".01" ? 1037 : lab == ".1" ? 1037 : lab == "10" ? 1036 : 1048, yE(hz) + (lab == ".01" ? 8 : lab == "10" ? 0 : 9), "#f00");
});
text("[/cc]", 1033, 725, "#f00", "start", .8, 11);
const bRedLift = [10, 0, 7, 6];
bFieldHz.forEach((hz, i) => {
  redTicks.append("line").attr("x1", X1).attr("x2", 1034).attr("y1", yB(hz)).attr("y2", yB(hz)).attr("stroke", "#f00");
  text(bFieldLabels[i], 1035, yB(hz) + bRedLift[i], "#f00");
});
text("[nT]", 1053, 1316, "#f00", "start", .7);
text("MCA", 1040, 802, "#000", "start", .55);
text("MCA", 1040, 1387, "#000", "start", .55);

// legends
const legend = (items, colors, y0, step, lift) => items.forEach((t, i) => {
  svg.append("rect").attr("x", 1125).attr("y", y0 + i * step).attr("width", 30).attr("height", 10).attr("fill", colors[i]);
  text(t, 1175, y0 + i * step + lift, colors[i], "start", .62);
});
legend(["MemR", "MemW", "Sing", "Dual"], ["#000", "#f00", "#00f", "#0ff"], 200, 30, 20.5);
legend(["Ex Bx", "Ey Bz"], ["#00f", "#f00"], 400, 30, 21);
legend(["PWI", "MGF"], ["#000", "#f0f"], 900, 30, 21);

// colour scales
text("dBV/m/√Hz", 1100, 547, "#000", "start", .66);
svg.append("line").attr("x1", 1183).attr("x2", 1208).attr("y1", 526.7).attr("y2", 526.7).attr("stroke", "#000").attr("shape-rendering", "crispEdges");
colorBar(-175, -85, 580, 837, eDbTicks, colE.db);
text("dBnT/√Hz", 1100, 1047, "#000", "start", .66);
svg.append("line").attr("x1", 1171).attr("x2", 1198).attr("y1", 1026).attr("y2", 1026).attr("stroke", "#000").attr("shape-rendering", "crispEdges");
colorBar(-100, -50, 1154, 1411, bDbTicks, colB.db);
</script>
</body>
</html>
